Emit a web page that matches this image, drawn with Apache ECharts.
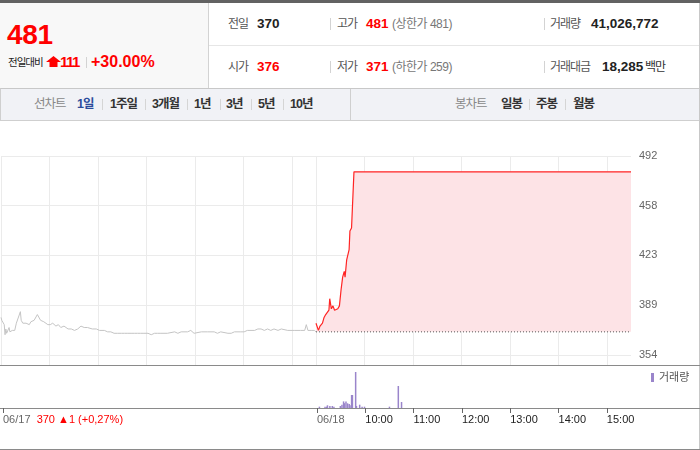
<!DOCTYPE html>
<html><head><meta charset="utf-8">
<script src="https://cdn.jsdelivr.net/npm/echarts@6.0.0/dist/echarts.min.js"></script>
<style>
html,body{margin:0;padding:0;background:#fff;width:700px;height:450px;overflow:hidden}
body{position:relative;font-family:"Liberation Sans","Noto Sans CJK KR",sans-serif}
.abs{position:absolute}
.t{position:absolute;white-space:nowrap;line-height:16px}
.k{font-size:12px;color:#555;letter-spacing:-1px}
.n{font-size:13.5px;font-weight:bold;color:#222}
.r{color:#f00}
.g{font-size:12px;color:#777;letter-spacing:-0.5px}
.sep{position:absolute;width:1px;height:12px;background:#d3d3d3}
.tb{font-size:12.5px;font-weight:bold;color:#333;letter-spacing:-1px}
.tl{font-size:12.5px;color:#888;letter-spacing:-1px}
.tsep{position:absolute;width:1px;height:11px;background:#d5d5d5;top:10px}
</style></head>
<body>
<div class="abs" style="left:0;top:0;width:700px;height:3px;background:#626262"></div>
<div class="abs" style="left:0;top:3px;width:208px;height:85px;background:#f8f8f8;border-right:1px solid #d3d3d3"></div>
<div class="abs" style="left:209px;top:45px;width:491px;height:1px;background:#e6e6e6"></div>
<div class="t" style="left:7px;top:20px;font-size:28px;line-height:30px;font-weight:bold;color:#f00;letter-spacing:-0.3px">481</div>
<div class="t" style="left:8px;top:54px;font-size:10.5px;color:#222;letter-spacing:-1px">전일대비</div>
<svg class="abs" style="left:46px;top:56px" width="15" height="12" viewBox="0 0 15 12"><polygon points="7.5,0 15,6 11.5,6 11.5,11 3.5,11 3.5,6 0,6" fill="#f00"/></svg>
<div class="t" style="left:60px;top:54px;font-size:15px;font-weight:bold;color:#f00;letter-spacing:-1.5px">111</div>
<div class="sep" style="left:86px;top:57px;height:11px"></div>
<div class="t" style="left:91px;top:54px;font-size:16px;font-weight:bold;color:#f00">+30.00%</div>

<div class="t k" style="left:228px;top:16px">전일</div>
<div class="t n" style="left:257px;top:16px">370</div>
<div class="sep" style="left:330px;top:18px"></div>
<div class="t k" style="left:337px;top:16px">고가</div>
<div class="t n r" style="left:366px;top:16px">481</div>
<div class="t g" style="left:392px;top:16px">(상한가 481)</div>
<div class="sep" style="left:544px;top:18px"></div>
<div class="t k" style="left:550px;top:16px">거래량</div>
<div class="t n" style="left:591px;top:16px">41,026,772</div>

<div class="t k" style="left:228px;top:59px">시가</div>
<div class="t n r" style="left:257px;top:59px">376</div>
<div class="sep" style="left:330px;top:61px"></div>
<div class="t k" style="left:337px;top:59px">저가</div>
<div class="t n r" style="left:366px;top:59px">371</div>
<div class="t g" style="left:392px;top:59px">(하한가 259)</div>
<div class="sep" style="left:544px;top:61px"></div>
<div class="t k" style="left:550px;top:59px">거래대금</div>
<div class="t n" style="left:602px;top:59px">18,285</div>
<div class="t k" style="left:645px;top:59px;color:#333">백만</div>

<div class="abs" style="left:0;top:88px;width:699px;height:31px;background:#f1f2f6;border-top:1px solid #c8c8c8;border-bottom:1px solid #cfcfcf;border-left:1px solid #cfcfcf">
  <div class="t tl" style="left:33px;top:7px">선차트</div>
  <div class="t tb" style="left:76px;top:7px;color:#2c4c9c">1일</div>
  <div class="tsep" style="left:101px"></div>
  <div class="t tb" style="left:109px;top:7px">1주일</div>
  <div class="tsep" style="left:144px"></div>
  <div class="t tb" style="left:151px;top:7px">3개월</div>
  <div class="tsep" style="left:186px"></div>
  <div class="t tb" style="left:193px;top:7px">1년</div>
  <div class="tsep" style="left:219px"></div>
  <div class="t tb" style="left:225px;top:7px">3년</div>
  <div class="tsep" style="left:250px"></div>
  <div class="t tb" style="left:257px;top:7px">5년</div>
  <div class="tsep" style="left:282px"></div>
  <div class="t tb" style="left:289px;top:7px">10년</div>
  <div class="abs" style="left:349px;top:0;width:1px;height:31px;background:#cfcfcf"></div>
  <div class="t tl" style="left:454px;top:7px">봉차트</div>
  <div class="t tb" style="left:500px;top:7px">일봉</div>
  <div class="tsep" style="left:528px"></div>
  <div class="t tb" style="left:535px;top:7px">주봉</div>
  <div class="tsep" style="left:564px"></div>
  <div class="t tb" style="left:572px;top:7px">월봉</div>
</div>
<div class="abs" style="left:699px;top:3px;width:1px;height:447px;background:#c8c8c8"></div>
<div id="chart" class="abs" style="left:0;top:120px;width:700px;height:330px"></div>
<script>
// previous day (06/17) — minutes since 06/17 09:00
const prevMinutes = [0,1,4,5,6,7,10,11,14,17,19,20,21,24,25,27,29,31,33,35,37,39,41,45,47,49,50,53,55,58,61,64,66,68,71,74,78,80,83,87,91,95,99,101,103,107,109,113,118,122,128,132,136,140,144,149,153,157,161,163,165,169,173,175,177,182,186,188,190,194,198,206,215,219,223,231,235,239,248,256,264,268,272,281,285,289,297,301,305,314,318,322,326,330,334,338,343,347,355,363,371,376,378,380,384,388,390];
const prevPrices = [380,378,375,368,372,369,373,370,371,371,376,377,376,384,378,376,376,376,376,375,377,376,378,382,381,378,379,377,378,375,375,376,375,374,375,373,374,375,372,372,371,372,374,375,373,373,374,372,372,371,371,370,370,369,369,369,369,369,369,370,369,369,369,368,369,369,368,367,369,369,369,369,370,369,370,370,371,369,370,370,370,369,370,369,369,370,370,370,371,371,372,372,371,372,371,372,371,372,371,371,371,371,375,371,371,371,370];
// today (06/18) — minutes since 06/17 09:00 (06/18 09:00 = 390)
const todayMinutes = [390,393,395,398,400,402,404,406,407,409,411,413,415,417,419,421,423,425,426,428,430,431,432,434,435,436,437,780];
const todayPrices = [376,371,374,376,380,382,381,385,393,386,388,385,384,386,388,399,408,412,408,420,419,427,440,442,455,456,481,481];
const prevClose = 370;
const prevCloseInfo = '370 ▲1 (+0,27%)';
// volume (thousand shares)
const volMinutes = [393,400,402,403,406,409,411,419,421,423,424,426,428,430,431,433,434,438,439,443,446,449,480,491,495];
const volValues = [220,220,220,450,330,330,220,330,550,1100,800,1100,780,670,450,2170,2170,6000,330,550,220,220,220,3670,1000];
// axes
const priceTicks = [354,388.5,423,457.5,492];
const gridMinutes = [0,60,120,180,240,300,360,390,450,510,570,630,690,750];
const labelMinutes = [0,390,450,510,570,630,690,750];
const timeLabels = ['06/17','06/18','10:00','11:00','12:00','13:00','14:00','15:00'];

const zip = (a,b) => a.map((v,i)=>[v,b[i]]);
const FONT = '"Liberation Sans","Noto Sans CJK KR",sans-serif';
const chart = echarts.init(document.getElementById('chart'), null, {renderer:'canvas'});
chart.setOption({
  animation:false,
  textStyle:{fontFamily:FONT},
  grid:[
    {left:1, top:36, width:630, height:209},
    {left:1, top:246, width:630, height:42}
  ],
  legend:{data:['거래량'], left:651, top:252, padding:0, icon:'rect', itemWidth:3, itemHeight:9, selectedMode:false,
    textStyle:{fontSize:11, color:'#555', fontFamily:FONT}},
  xAxis:[
    {type:'value', gridIndex:0, min:0, max:780, axisLine:{show:false},
     axisTick:{show:false, customValues:gridMinutes}, axisLabel:{show:false},
     splitLine:{show:true, lineStyle:{color:'#ebebeb', width:1}}},
    {type:'value', gridIndex:1, min:0, max:780, axisLine:{show:false},
     axisTick:{show:true, customValues:labelMinutes, length:5, lineStyle:{color:'#666'}},
     axisLabel:{customValues:labelMinutes, align:'left', margin:6, fontSize:11, fontFamily:FONT,
       formatter:function(v){
         const i = labelMinutes.indexOf(v);
         if(i===0) return '{g|'+timeLabels[0]+'}  {r|'+prevCloseInfo+'}';
         if(i===1) return '{g|'+timeLabels[1]+'}';
         return '{b|'+timeLabels[i]+'}';
       },
       rich:{g:{color:'#666',fontSize:11,fontFamily:FONT}, r:{color:'#f00',fontSize:11,fontFamily:FONT}, b:{color:'#222',fontSize:11,fontFamily:FONT}}},
     splitLine:{show:false}}
  ],
  yAxis:[
    {type:'value', gridIndex:0, position:'right', min:347, max:492, axisLine:{show:false},
     axisTick:{show:false, customValues:priceTicks},
     axisLabel:{customValues:priceTicks, margin:8, color:'#666', fontSize:11, fontFamily:FONT,
       formatter:function(v){return String(Math.round(v));}},
     splitLine:{show:true, lineStyle:{color:'#ebebeb', width:1}}},
    {type:'value', gridIndex:1, min:0, max:7000, show:false, splitLine:{show:false}}
  ],
  series:[
    {type:'line', name:'prev', xAxisIndex:0, yAxisIndex:0, data:zip(prevMinutes,prevPrices), symbol:'none',
     lineStyle:{color:'#c4c4c4', width:1}, silent:true},
    {type:'line', name:'today', xAxisIndex:0, yAxisIndex:0, data:zip(todayMinutes,todayPrices), symbol:'none',
     lineStyle:{color:'#ff2424', width:1.2}, areaStyle:{color:'#fde3e6', opacity:1, origin:prevClose}, silent:true, z:3},
    {type:'line', name:'close', xAxisIndex:0, yAxisIndex:0,
     data:[[todayMinutes[0],prevClose],[todayMinutes[todayMinutes.length-1],prevClose]], symbol:'none',
     lineStyle:{color:'#555', width:1, type:[1,2]}, silent:true, z:4},
    {type:'bar', name:'거래량', xAxisIndex:1, yAxisIndex:1, data:zip(volMinutes,volValues), barWidth:1.5,
     itemStyle:{color:'#9a85cb'}, silent:true}
  ],
  graphic:[
    {type:'line', shape:{x1:0,y1:245.5,x2:700,y2:245.5}, style:{stroke:'#8a8a8a',lineWidth:1}, silent:true},
    {type:'line', shape:{x1:0,y1:288.5,x2:700,y2:288.5}, style:{stroke:'#8a8a8a',lineWidth:1}, silent:true},
    {type:'line', shape:{x1:0,y1:329.5,x2:700,y2:329.5}, style:{stroke:'#8a8a8a',lineWidth:1}, silent:true}
  ]
});
</script>
</body></html>
